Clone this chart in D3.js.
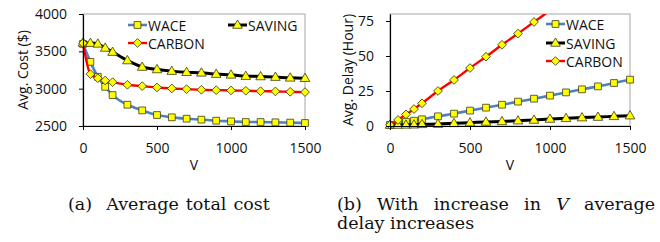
<!DOCTYPE html>
<html>
<head>
<meta charset="utf-8">
<script src="https://cdn.jsdelivr.net/npm/d3@7"></script>
<style>
  body { margin: 0; background: #fff; }
  svg text { font-family: 'Open Sans', sans-serif; fill: #111; }
  .cap text { font-family: 'DejaVu Serif', serif; }
</style>
</head>
<body>
<svg id="fig" width="660" height="242"></svg>
<script>
const vValues = [0, 50, 100, 150, 200, 300, 400, 500, 600, 700, 800, 900, 1000, 1100, 1200, 1300, 1400, 1500];

// (a) average total cost
const costWace   = [3600, 3359, 3159, 3025, 2914, 2785, 2709, 2647, 2616, 2598, 2585, 2571, 2562, 2553, 2553, 2549, 2545, 2540];
const costSaving = [3612, 3610, 3600, 3545, 3490, 3377, 3290, 3257, 3235, 3220, 3212, 3195, 3185, 3168, 3163, 3155, 3145, 3140];
const costCarbon = [3610, 3195, 3140, 3110, 3087, 3052, 3034, 3016, 3003, 2994, 2985, 2980, 2976, 2972, 2967, 2963, 2958, 2954];

// (b) average delay, hours
const delayWace   = [0.8, 2.0, 3.0, 3.8, 4.8, 6.9, 8.8, 11.0, 13.1, 15.2, 17.4, 19.5, 21.7, 24.0, 26.2, 28.3, 30.7, 33.1];
const delaySaving = [0.7, 0.7, 0.8, 0.9, 1.2, 1.4, 1.9, 2.4, 2.9, 3.3, 3.8, 4.3, 5.0, 5.5, 6.0, 6.4, 6.9, 7.4];
const delayCarbon = [0.8, 4.3, 8.3, 12.1, 16.2, 25.0, 32.9, 41.4, 49.5, 58.0, 66.0, 74.3, 82.6];

const costTicks = [2500, 3000, 3500, 4000];
const delayTicks = [0, 25, 50, 75];
const vTicks = [0, 500, 1000, 1500];

const seriesNames = ['WACE', 'SAVING', 'CARBON'];
const colors = {WACE: '#4f81bd', SAVING: '#000000', CARBON: '#ff0000'};
const widths = {WACE: 2.6, SAVING: 3, CARBON: 2.4};

const svg = d3.select('#fig');

const squareSym = d3.symbol().type(d3.symbolSquare).size(46);
const triSym = d3.symbol().type(d3.symbolTriangle).size(40);
const diaSym = d3.symbol().type(d3.symbolSquare).size(38);

function drawMarker(g, name, x, y) {
  let m;
  if (name === 'WACE') m = g.append('path').attr('d', squareSym()).attr('transform', `translate(${x},${y})`);
  else if (name === 'SAVING') m = g.append('path').attr('d', triSym()).attr('transform', `translate(${x},${y + 0.5})`);
  else m = g.append('path').attr('d', diaSym()).attr('transform', `translate(${x},${y}) rotate(45)`);
  m.attr('fill', '#ffff00').attr('stroke', '#3a3a1a').attr('stroke-width', 0.8);
}

function drawChart(opts) {
  const x = d3.scaleLinear().domain([0, 1500]).range([opts.left, opts.right]);
  const y = d3.scaleLinear().domain(opts.yDomain).range([opts.bottom, opts.top]);
  const g = svg.append('g');

  // plot area frame
  g.append('rect')
    .attr('x', opts.left).attr('y', opts.top)
    .attr('width', opts.right - opts.left).attr('height', opts.bottom - opts.top)
    .attr('fill', 'none').attr('stroke', '#a6a6a6').attr('stroke-width', 1);

  const clipId = 'clip' + opts.id;
  svg.append('clipPath').attr('id', clipId).append('rect')
    .attr('x', opts.left - 6).attr('y', opts.top)
    .attr('width', opts.right - opts.left + 12).attr('height', opts.bottom - opts.top + 6);

  const plot = g.append('g').attr('clip-path', `url(#${clipId})`);
  const line = d3.line().x(d => x(d[0])).y(d => y(d[1])).curve(d3.curveMonotoneX);

  seriesNames.forEach(name => {
    const vals = opts.data[name];
    const pts = vals.map((v, i) => [vValues[i], v]);
    plot.append('path').datum(pts)
      .attr('d', line)
      .attr('fill', 'none')
      .attr('stroke', colors[name])
      .attr('stroke-width', widths[name]);
    pts.filter(p => p[1] <= opts.yDomain[1]).forEach(p => drawMarker(plot, name, x(p[0]), y(p[1])));
  });

  // axes
  const xAxis = g.append('g').attr('transform', `translate(0,${opts.bottom})`)
    .call(d3.axisBottom(x).tickValues(vTicks).tickFormat(d3.format('d'))
      .tickSize(4).tickSizeOuter(0).tickPadding(13));
  const yAxis = g.append('g').attr('transform', `translate(${opts.left},0)`)
    .call(d3.axisLeft(y).tickValues(opts.ticks).tickFormat(d3.format('d'))
      .tickSize(4).tickSizeOuter(0).tickPadding(12));
  [xAxis, yAxis].forEach(a => {
    a.select('.domain').attr('stroke', '#000').attr('stroke-width', 1.2);
    a.selectAll('.tick line').attr('stroke', '#000');
    a.selectAll('.tick text').attr('font-size', 14).attr('font-family', null).style('fill', '#111');
  });

  g.append('text')
    .attr('x', (opts.left + opts.right) / 2).attr('y', 170)
    .attr('text-anchor', 'middle').attr('font-size', 14).text('V');

  g.append('text')
    .attr('transform', `translate(${opts.titleX},${(opts.top + opts.bottom) / 2}) rotate(-90)`)
    .attr('text-anchor', 'middle').attr('dominant-baseline', 'central')
    .attr('font-size', 14).text(opts.yTitle);

  // legend
  opts.legend.forEach(item => {
    const lg = g.append('g');
    lg.append('line')
      .attr('x1', item.x).attr('x2', item.x + 19)
      .attr('y1', item.y).attr('y2', item.y)
      .attr('stroke', colors[item.name]).attr('stroke-width', widths[item.name]);
    drawMarker(lg, item.name, item.x + 9.5, item.y);
    lg.append('text')
      .attr('x', item.x + 20).attr('y', item.y)
      .attr('dominant-baseline', 'central')
      .attr('font-size', 14).text(item.name);
  });
}

drawChart({
  id: 'a', left: 83, right: 305, top: 14, bottom: 126,
  yDomain: [2500, 4000], ticks: costTicks, titleX: 22, yTitle: 'Avg. Cost ($)',
  data: {WACE: costWace, SAVING: costSaving, CARBON: costCarbon},
  legend: [
    {name: 'WACE', x: 128, y: 25},
    {name: 'SAVING', x: 228, y: 25},
    {name: 'CARBON', x: 128, y: 43}
  ]
});

drawChart({
  id: 'b', left: 390, right: 630, top: 14, bottom: 126,
  yDomain: [0, 80], ticks: delayTicks, titleX: 347, yTitle: 'Avg. Delay (Hour)',
  data: {WACE: delayWace, SAVING: delaySaving, CARBON: delayCarbon},
  legend: [
    {name: 'WACE', x: 546, y: 24},
    {name: 'SAVING', x: 546, y: 43},
    {name: 'CARBON', x: 546, y: 61}
  ]
});

// captions
const cap = svg.append('g').attr('class', 'cap');
cap.append('text').attr('x', 68).attr('y', 210).attr('font-size', 17.5)
  .attr('word-spacing', 1.5)
  .text('(a)\u00a0 Average total cost');

// justified first line of caption (b)
const words = [
  {t: '(b)', it: false}, {t: 'With', it: false}, {t: 'increase', it: false},
  {t: 'in', it: false}, {t: 'V', it: true}, {t: 'average', it: false}
];
const lineLeft = 337, lineRight = 655;
const nodes = words.map(w => cap.append('text')
  .attr('y', 210).attr('font-size', 17.5)
  .attr('font-style', w.it ? 'italic' : null)
  .text(w.t));
const wsum = d3.sum(nodes, n => n.node().getComputedTextLength());
const gap = (lineRight - lineLeft - wsum) / (words.length - 1);
let cx = lineLeft;
nodes.forEach(n => {
  n.attr('x', cx);
  cx += n.node().getComputedTextLength() + gap;
});
cap.append('text').attr('x', lineLeft).attr('y', 229).attr('font-size', 17.5)
  .text('delay increases');
</script>
</body>
</html>
